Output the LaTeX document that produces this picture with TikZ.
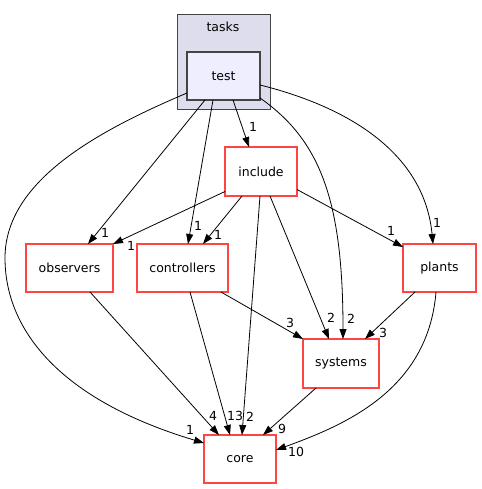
\documentclass[tikz,border=0pt]{standalone}
\usepackage{fontspec}
\setmainfont{DejaVu Sans}
\usetikzlibrary{arrows.meta}
\definecolor{dirred}{RGB}{255,68,68}
\definecolor{clusterfill}{RGB}{221,221,238}
\definecolor{testfill}{RGB}{238,238,255}
\definecolor{darkedge}{RGB}{68,68,68}
\tikzset{
  dirbox/.style={draw=dirred, line width=1.1pt, fill=white, inner sep=0pt, outer sep=0pt, font=\fontsize{12.5pt}{14pt}\selectfont},
  dep/.style={draw=black, line width=0.8pt, -{Triangle[length=10pt,width=7pt]}},
  lbl/.style={inner sep=0pt, font=\fontsize{12.5pt}{14pt}\selectfont}
}
\begin{document}
\begin{tikzpicture}[x=1pt,y=-1pt]
\useasboundingbox (0,0) rectangle (481,489);
% cluster
\node[draw=darkedge, line width=1pt, fill=clusterfill, minimum width=93pt, minimum height=95pt, inner sep=0pt] (tasks) at (223.5,62.5) {};
\node[lbl] (taskslbl) at (223,27) {tasks};
\node[draw=darkedge, line width=1.6pt, fill=testfill, minimum width=73pt, minimum height=48pt, inner sep=0pt, outer sep=0pt, font=\fontsize{12.5pt}{14pt}\selectfont] (test) at (223.5,76) {test};
% nodes
\node[dirbox, minimum width=72pt, minimum height=49pt] (include) at (261,171.5) {include};
\node[dirbox, minimum width=87pt, minimum height=48pt] (observers) at (69.5,268) {observers};
\node[dirbox, minimum width=91pt, minimum height=48pt] (controllers) at (182.5,268) {controllers};
\node[dirbox, minimum width=73pt, minimum height=48pt] (plants) at (439.5,268) {plants};
\node[dirbox, minimum width=76pt, minimum height=49pt] (systems) at (341,363.5) {systems};
\node[dirbox, minimum width=72pt, minimum height=48pt] (core) at (240,459) {core};
% edges from test
\draw[dep] ([xshift=18pt]test.south west) -- ([xshift=62pt]observers.north west);
\draw[dep] ([xshift=26pt]test.south west) -- ([xshift=51pt]controllers.north west);
\draw[dep] ([xshift=46pt]test.south west) -- ([xshift=24pt]include.north west);
\draw[dep] ([yshift=2pt]test.south east) .. controls (320,140) and (343,200) .. ([xshift=2pt]systems.north);
\draw[dep] ([yshift=-9pt]test.east) .. controls (360,110) and (425,160) .. ([xshift=30pt]plants.north west);
\draw[dep] ([yshift=-17pt]test.west) .. controls (100,130) and (5,180) .. (5,258) .. controls (5,330) and (60,400) .. ([yshift=-8pt]core.north west);
% edges from include
\draw[dep] ([yshift=-20pt]include.west) -- (observers.north east);
\draw[dep] ([xshift=17pt]include.south west) -- ([xshift=66pt]controllers.north west);
\draw[dep] ([xshift=-1pt]include.south) -- ([xshift=2pt]core.north);
\draw[dep] ([xshift=45pt]include.south west) -- ([xshift=26pt]systems.north west);
\draw[dep] ([yshift=-18pt]include.east) -- ([yshift=-3pt]plants.north west);
% others
\draw[dep] ([xshift=64pt]observers.south west) -- ([xshift=15pt]core.north west);
\draw[dep] ([xshift=53pt]controllers.south west) -- ([xshift=26pt]core.north west);
\draw[dep] ([xshift=-7pt]controllers.south east) -- (systems.north west);
\draw[dep] ([xshift=12pt]plants.south west) -- ([xshift=-14pt]systems.north east);
\draw[dep] ([xshift=33pt]plants.south west) .. controls (428,390) and (345,425) .. ([yshift=-15pt]core.north east);
\draw[dep] ([xshift=13pt]systems.south west) -- ([xshift=-13pt]core.north east);
% labels
\node[lbl] (l1) at (253,127) {1};
\node[lbl] (l2) at (105,233) {1};
\node[lbl] (l3) at (131,246) {1};
\node[lbl] (l4) at (198,226) {1};
\node[lbl] (l5) at (218,235) {1};
\node[lbl] (l6) at (391,231) {1};
\node[lbl] (l7) at (437,223) {1};
\node[lbl] (l8) at (331,318) {2};
\node[lbl] (l9) at (351,319) {2};
\node[lbl] (l10) at (290,323) {3};
\node[lbl] (l11) at (383,333) {3};
\node[lbl] (l12) at (282,429) {9};
\node[lbl] (l13) at (296,452) {10};
\node[lbl] (l14) at (250,417) {2};
\node[lbl] (l15) at (235,416) {13};
\node[lbl] (l16) at (213,416) {4};
\node[lbl] (l17) at (190,430) {1};
\end{tikzpicture}
\end{document}
